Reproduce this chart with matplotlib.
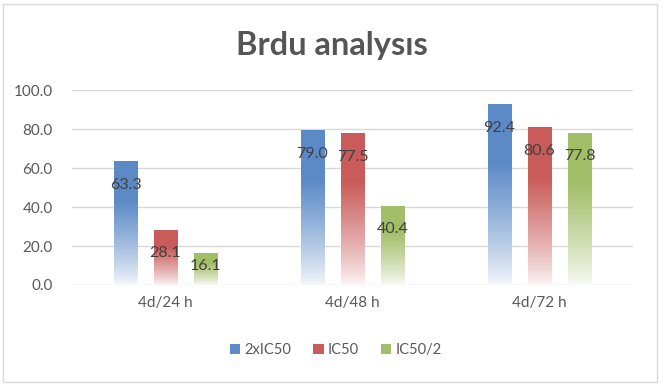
import numpy as np
import matplotlib
matplotlib.use("Agg")
import matplotlib.pyplot as plt
from matplotlib.colors import to_rgb
from matplotlib.patches import Rectangle, Patch

categories = ["4d/24 h", "4d/48 h", "4d/72 h"]
series_names = ["2xIC50", "IC50", "IC50/2"]
s_2xic50 = [63.3, 79.0, 92.4]
s_ic50 = [28.1, 77.5, 80.6]
s_ic50_2 = [16.1, 40.4, 77.8]
series_values = [s_2xic50, s_ic50, s_ic50_2]
colors = ["#5B8AC6", "#C95C5A", "#A2BE68"]
yticks = [0, 20, 40, 60, 80, 100]

plt.rcParams['font.family'] = ['Lato', 'DejaVu Sans']

W, H = 663, 385
fig = plt.figure(figsize=(W / 100, H / 100), dpi=100)
fig.patch.set_facecolor("white")
ax = fig.add_axes([72 / W, 1 - 285 / H, 561 / W, 195 / H])

# chart border
fig.patches.append(Rectangle((3 / W, 3 / H), 654 / W, 378 / H, transform=fig.transFigure,
                             fill=False, edgecolor="#D9D9D9", linewidth=1))

ax.set_xlim(-0.5, len(categories) - 0.5)
ax.set_ylim(0, 100)
for sp in ax.spines.values():
    sp.set_visible(False)
ax.set_yticks(yticks)
ax.set_yticklabels([f"{v:.1f}" for v in yticks], fontsize=11, color="#595959")
ax.tick_params(axis="both", length=0, pad=14)
ax.tick_params(axis="x", pad=8)
ax.yaxis.grid(True, color="#D9D9D9", linewidth=1)
ax.set_axisbelow(True)
x = np.arange(len(categories))
ax.set_xticks(x)
ax.set_xticklabels(categories, fontsize=11, color="#595959")

offsets = [-0.214, 0.0, 0.214]
width = 0.127
px_per_unit = 195 / 100.0

# gradient: solid at top fading to white at bottom
n = 256
t = np.linspace(0, 1, n)  # 0 = bottom, 1 = top
mix = np.clip(0.06 + 0.94 * (t / 0.68) ** 0.85, 0, 1)

for si, (vals, col) in enumerate(zip(series_values, colors)):
    c = np.array(to_rgb(col))
    grad = (1 - mix[:, None]) * np.ones(3) + mix[:, None] * c
    img = grad[:, None, :]
    for xi, v in zip(x, vals):
        x0 = xi + offsets[si] - width / 2
        ax.bar(xi + offsets[si], v, width=width, color="none", edgecolor="none")
        ax.imshow(img, extent=(x0, x0 + width, 0, v), origin="lower",
                  aspect="auto", interpolation="bilinear", zorder=2)
        hpx = v * px_per_unit
        off_px = min(23, hpx / 2 - 3)
        ax.annotate(f"{v:.1f}", (xi + offsets[si], v), xytext=(0, -off_px * 0.72),
                    textcoords="offset points", ha="center", va="center",
                    fontsize=11.5, color="#404040", zorder=3)

ax.set_xlim(-0.5, len(categories) - 0.5)
ax.set_ylim(0, 100)

fig.text(0.5, 1 - 45 / H, "Brdu analysıs", ha="center", va="center",
         fontsize=23.5, fontweight="bold", color="#555555")

handles = [Patch(facecolor=c, edgecolor="none") for c in colors]
fig.legend(handles, series_names, loc="center", bbox_to_anchor=(336 / W, 1 - 350 / H),
           ncol=3, frameon=False, fontsize=10.5, labelcolor="#595959",
           handlelength=0.7, handleheight=0.7, handletextpad=0.3, columnspacing=1.5)

fig.savefig("out.png", dpi=100, facecolor="white")
